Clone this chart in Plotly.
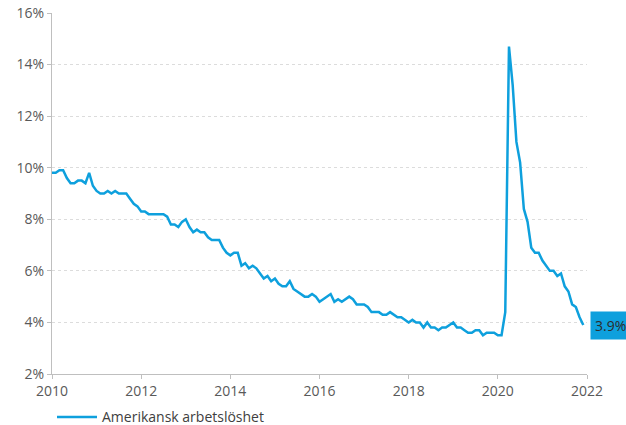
import plotly.graph_objects as go

years = list(range(2010, 2022))
unemployment = [
    # 2010
    9.8, 9.8, 9.9, 9.9, 9.6, 9.4, 9.4, 9.5, 9.5, 9.4, 9.8, 9.3,
    # 2011
    9.1, 9.0, 9.0, 9.1, 9.0, 9.1, 9.0, 9.0, 9.0, 8.8, 8.6, 8.5,
    # 2012
    8.3, 8.3, 8.2, 8.2, 8.2, 8.2, 8.2, 8.1, 7.8, 7.8, 7.7, 7.9,
    # 2013
    8.0, 7.7, 7.5, 7.6, 7.5, 7.5, 7.3, 7.2, 7.2, 7.2, 6.9, 6.7,
    # 2014
    6.6, 6.7, 6.7, 6.2, 6.3, 6.1, 6.2, 6.1, 5.9, 5.7, 5.8, 5.6,
    # 2015
    5.7, 5.5, 5.4, 5.4, 5.6, 5.3, 5.2, 5.1, 5.0, 5.0, 5.1, 5.0,
    # 2016
    4.8, 4.9, 5.0, 5.1, 4.8, 4.9, 4.8, 4.9, 5.0, 4.9, 4.7, 4.7,
    # 2017
    4.7, 4.6, 4.4, 4.4, 4.4, 4.3, 4.3, 4.4, 4.3, 4.2, 4.2, 4.1,
    # 2018
    4.0, 4.1, 4.0, 4.0, 3.8, 4.0, 3.8, 3.8, 3.7, 3.8, 3.8, 3.9,
    # 2019
    4.0, 3.8, 3.8, 3.7, 3.6, 3.6, 3.7, 3.7, 3.5, 3.6, 3.6, 3.6,
    # 2020
    3.5, 3.5, 4.4, 14.7, 13.2, 11.0, 10.2, 8.4, 7.9, 6.9, 6.7, 6.7,
    # 2021
    6.4, 6.2, 6.0, 6.0, 5.8, 5.9, 5.4, 5.2, 4.7, 4.6, 4.2, 3.9,
]
x_dates = [y + m / 12 for y in years for m in range(12)]

x_ticks = [2010, 2012, 2014, 2016, 2018, 2020, 2022]
y_ticks = [2, 4, 6, 8, 10, 12, 14, 16]
y_tick_text = ["2%", "4%", "6%", "8%", "10%", "12%", "14%", "16%"]
series_name = "Amerikansk arbetslöshet"
last_label = "3.9%"

line_color = "#0ea0dd"
font_family = "Open Sans, Noto Sans, sans-serif"

fig = go.Figure()
fig.add_trace(go.Scatter(
    x=x_dates, y=unemployment, mode="lines", name=series_name,
    line=dict(color=line_color, width=2.5),
))

fig.add_annotation(
    x=2022, y=unemployment[-1], xref="x", yref="y",
    text=last_label, showarrow=False, xanchor="left", yanchor="middle",
    xshift=3, bgcolor=line_color, borderpad=4,
    font=dict(size=14, color="#2b2b2b", family=font_family),
)

fig.update_layout(
    width=626, height=425,
    margin=dict(l=52, r=39, t=13, b=51, autoexpand=False),
    paper_bgcolor="white", plot_bgcolor="white",
    font=dict(family=font_family, size=14, color="#595959"),
    showlegend=True,
    legend=dict(orientation="h", x=0.0, xanchor="left",
                yref="container", y=0.018, yanchor="middle",
                font=dict(size=14, color="#404040"), itemwidth=40),
)
fig.update_xaxes(
    range=[2010, 2022], tickvals=x_ticks, showgrid=False,
    showline=True, linecolor="#bfbfbf", linewidth=1,
    ticks="outside", ticklen=4, tickcolor="#bfbfbf", zeroline=False,
)
fig.update_yaxes(
    range=[2, 16], tickvals=y_ticks, ticktext=y_tick_text,
    showgrid=True, gridcolor="#dcdcdc", griddash="dot", gridwidth=1,
    showline=True, linecolor="#bfbfbf", linewidth=1,
    ticks="outside", ticklen=4, tickcolor="#bfbfbf", zeroline=False,
)

fig.write_html("out.html")
